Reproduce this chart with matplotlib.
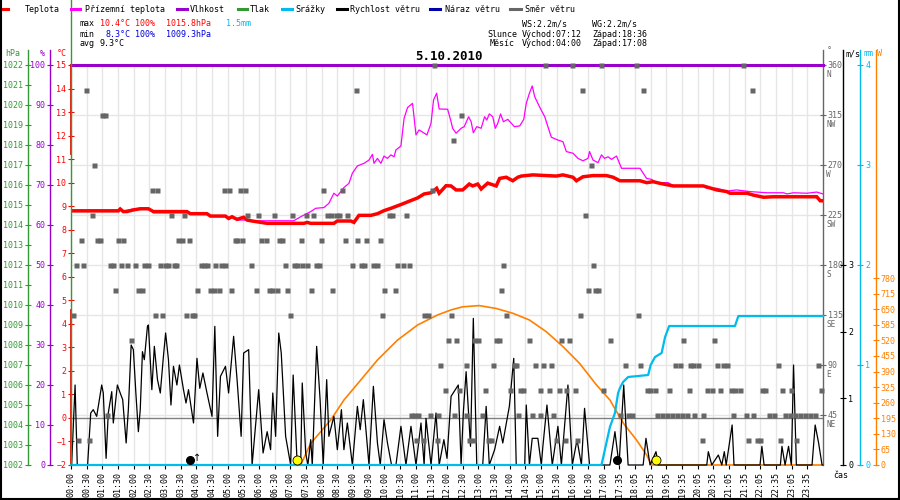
import matplotlib
matplotlib.use("Agg")
import matplotlib.pyplot as plt
from matplotlib.lines import Line2D
import numpy as np

# ---- data (time in hours of the day) ----
time_labels = ["00:00", "00:30", "01:00", "01:30", "02:00", "02:30", "03:00", "03:30",
               "04:00", "04:30", "05:00", "05:30", "06:00", "06:30", "07:00", "07:30",
               "08:00", "08:30", "09:00", "09:30", "10:00", "10:30", "11:00", "11:30",
               "12:00", "12:30", "13:00", "13:30", "14:00", "14:30", "15:00", "15:30",
               "16:00", "16:30", "17:00", "17:35", "18:05", "18:35", "19:05", "19:35",
               "20:05", "20:35", "21:05", "21:35", "22:05", "22:35", "23:05", "23:35"]

temp_t = [0, 1.51, 1.57, 1.67, 1.78, 1.99, 2.21, 2.47, 2.63, 3.70, 3.81, 4.34, 4.45, 4.93,
          5.03, 5.14, 5.30, 5.51, 5.62, 5.78, 6.26, 7.43, 7.54, 7.65, 8.39, 8.50, 8.93, 9.03,
          9.19, 9.57, 9.78, 9.99, 10.21, 10.53, 10.85, 11.06, 11.27, 11.49, 11.67, 11.75,
          11.97, 12.13, 12.29, 12.50, 12.71, 12.82, 12.98, 13.09, 13.30, 13.57, 13.68, 13.89,
          14.10, 14.26, 14.37, 14.74, 15.17, 15.49, 15.70, 16.02, 16.13, 16.34, 16.66, 17.09,
          17.30, 17.52, 18.16, 18.37, 18.58, 18.80, 19.22, 20.18, 20.61, 20.93, 21.03, 21.57,
          21.78, 22.10, 22.42, 23.80, 23.91, 24.0]
temp_v = [8.80, 8.80, 8.88, 8.77, 8.77, 8.84, 8.89, 8.89, 8.77, 8.77, 8.68, 8.68, 8.58, 8.58,
          8.48, 8.55, 8.44, 8.53, 8.41, 8.37, 8.27, 8.27, 8.31, 8.27, 8.27, 8.37, 8.37, 8.31,
          8.61, 8.61, 8.68, 8.81, 8.91, 9.07, 9.24, 9.35, 9.52, 9.57, 9.76, 9.55,
          9.87, 9.86, 9.69, 9.69, 9.94, 9.86, 9.94, 9.73, 9.98, 9.86, 10.18, 10.23,
          10.08, 10.23, 10.28, 10.33, 10.30, 10.28, 10.33, 10.23, 10.08, 10.25, 10.30, 10.30,
          10.23, 10.08, 10.08, 10.00, 10.04, 9.97, 9.86, 9.86, 9.69, 9.62, 9.55, 9.55,
          9.47, 9.38, 9.40, 9.40, 9.23, 9.23]

ground_t = [0, 1.51, 1.57, 1.67, 1.99, 2.21, 2.47, 2.63, 3.70, 3.81, 4.34, 4.45, 4.93, 5.03,
            5.14, 5.30, 5.62, 5.78, 7.11, 7.33, 7.65, 7.81, 8.07, 8.23, 8.39, 8.50, 8.61, 8.71,
            8.87, 8.98, 9.14, 9.35, 9.51, 9.62, 9.67, 9.78, 9.89, 9.99, 10.10, 10.21, 10.31,
            10.37, 10.53, 10.63, 10.74, 10.90, 11.01, 11.11, 11.36, 11.49, 11.57, 11.67, 11.75,
            12.02, 12.13, 12.18, 12.29, 12.45, 12.55, 12.69, 12.77, 12.84, 12.95, 13.09, 13.20,
            13.27, 13.35, 13.46, 13.54, 13.62, 13.71, 13.80, 13.94, 14.15, 14.32, 14.45, 14.53,
            14.63, 14.72, 14.80, 14.95, 15.12, 15.22, 15.33, 15.54, 15.70, 15.81, 16.02, 16.18,
            16.34, 16.50, 16.55, 16.66, 16.82, 16.93, 17.03, 17.14, 17.25, 17.41, 17.57, 18.16,
            18.37, 18.53, 18.69, 19.06, 19.22, 20.18, 20.29, 20.61, 20.93, 21.24, 21.67, 22.21,
            22.74, 22.85, 23.06, 23.49, 23.80, 24.0]
ground_v = [8.84, 8.84, 8.91, 8.80, 8.88, 8.91, 8.91, 8.72, 8.72, 8.66, 8.66, 8.58, 8.58, 8.46,
            8.53, 8.41, 8.41, 8.38, 8.38, 8.55, 8.77, 8.91, 8.94, 9.12, 9.55, 9.43, 9.62, 9.79,
            9.97, 10.40, 10.71, 10.82, 10.96, 11.20, 10.82, 11.03, 10.82, 11.13, 11.03, 11.18, 11.10,
            11.39, 11.56, 12.73, 13.19, 13.37, 12.03, 12.24, 12.03, 12.52, 13.51, 13.80, 13.13,
            13.12, 12.59, 12.31, 12.10, 12.31, 12.38, 12.80, 12.59, 12.12, 12.38, 12.31, 12.80,
            12.66, 12.92, 12.80, 12.31, 12.52, 12.92, 12.59, 12.69, 12.38, 12.41, 12.69, 13.37,
            13.80, 14.11, 13.65, 13.23, 12.80, 12.38, 11.93, 11.81, 11.74, 11.32, 11.25, 11.03,
            10.93, 11.03, 11.32, 10.96, 10.85, 11.18, 11.03, 11.10, 10.99, 11.13, 10.61, 10.61,
            10.18, 10.14, 10.00, 10.00, 9.86, 9.86, 9.76, 9.76, 9.64, 9.69, 9.62, 9.57,
            9.57, 9.52, 9.57, 9.55, 9.60, 9.52]

humid_t = [0, 24]
humid_v = [100, 100]

wind_t = [0.02, 0.13, 0.20, 0.53, 0.63, 0.71, 0.82, 0.98, 1.03, 1.12, 1.19, 1.30, 1.35, 1.48,
          1.57, 1.65, 1.76, 1.83, 1.92, 1.99, 2.07, 2.15, 2.21, 2.28, 2.34, 2.44, 2.47, 2.58,
          2.66, 2.76, 2.85, 2.95, 3.02, 3.11, 3.19, 3.27, 3.38, 3.46, 3.59, 3.67, 3.75, 3.91,
          4.02, 4.11, 4.21, 4.34, 4.50, 4.59, 4.68, 4.77, 4.93, 5.03, 5.19, 5.30, 5.43, 5.51,
          5.67, 5.78, 5.99, 6.13, 6.26, 6.37, 6.44, 6.53, 6.63, 6.71, 6.85, 7.01, 7.09, 7.22,
          7.33, 7.38, 7.49, 7.56, 7.65, 7.70, 7.84, 7.95, 8.05, 8.16, 8.23, 8.39, 8.50, 8.63,
          8.71, 8.82, 8.98, 9.14, 9.23, 9.33, 9.51, 9.65, 9.78, 9.87, 9.99, 10.10, 10.23, 10.37,
          10.53, 10.69, 10.85, 11.01, 11.17, 11.27, 11.33, 11.49, 11.65, 11.75, 11.90, 12.00,
          12.13, 12.36, 12.45, 12.52, 12.61, 12.75, 12.84, 12.95, 13.14, 13.25, 13.35, 13.52,
          13.68, 13.78, 13.99, 14.13, 14.21, 14.48, 14.53, 14.63, 14.72, 14.90, 15.01, 15.06,
          15.19, 15.36, 15.54, 15.65, 15.86, 16.00, 16.15, 16.29, 16.39, 16.55, 17.20, 17.36,
          17.49, 17.64, 17.78, 18.26, 18.35, 18.48, 18.67, 18.74, 20.29, 20.34, 20.45, 20.66,
          20.77, 20.85, 20.91, 21.10, 21.16, 21.99, 22.05, 22.12, 22.64, 22.69, 22.79, 22.90,
          22.99, 23.06, 23.15, 23.65, 23.75, 23.86, 23.97, 24.0]
wind_v = [0, 1.2, 0, 0, 0.78, 0.83, 0.73, 1.2, 1.08, 0.1, 0.78, 1.1, 0.63, 1.2,
          1.08, 0.98, 0.33, 0.83, 1.8, 1.73, 1.08, 0.5, 0.83, 1.7, 1.58, 2.08, 2.1, 1.13,
          1.78, 1.28, 1.08, 1.63, 1.98, 1.58, 0.9, 1.48, 1.2, 1.5, 1.13, 0.93, 1.13, 0.63,
          1.6, 1.15, 1.38, 1.08, 0.73, 2.08, 0.43, 1.33, 1.48, 1.08, 1.93, 1.28, 0.43, 1.68,
          1.73, 0, 1.13, 0.18, 0.5, 0.23, 1.08, 0.43, 1.98, 1.68, 0.43, 0, 1.35, 0,
          0, 1.23, 0.18, 0, 0.38, 0, 1.78, 0.98, 0, 1.28, 0.43, 0.73, 0.23, 0.83,
          0.23, 0.63, 0, 0.88, 0.53, 0.98, 0, 1.18, 0.33, 0, 0.68, 0.33, 0, 0,
          0.58, 0, 0.58, 0, 0.63, 0, 0.7, 0, 0.78, 0, 0.38, 0.1,
          1.03, 1.2, 0, 0.78, 1.4, 0.28, 2.2, 0, 0, 0.88, 0, 0.23,
          0.58, 0.33, 0.88, 1.6, 0, 0, 0.9, 0, 0.4, 0.4, 0, 0.28,
          0.9, 0, 0.58, 0, 1.2, 0, 0.38, 0, 0.85, 0, 0, 0.5,
          0, 1.2, 0, 0, 0.4, 0, 0.2, 0, 0, 0.2, 0, 0.15,
          0, 0.2, 0, 0.6, 0, 0, 0.28, 0, 0, 0.28, 0, 0.28,
          0, 1.5, 0, 0, 0.6, 0.33, 0, 0]

rain_t = [0, 16.93, 17.20, 17.36, 17.46, 17.52, 17.62, 17.78, 18.42, 18.50, 18.64, 18.85,
          18.96, 19.09, 21.19, 21.30, 24.0]
rain_v = [0, 0, 0.38, 0.52, 0.72, 0.77, 0.83, 0.88, 0.90, 1.00, 1.08, 1.12,
          1.28, 1.39, 1.39, 1.49, 1.49]

solar_t = [0, 7.33, 7.65, 8.29, 8.71, 9.25, 9.78, 10.42, 11.06, 11.70, 12.13, 12.50, 13.03,
           13.57, 14.10, 14.63, 15.17, 15.70, 16.23, 16.77, 17.20, 17.63, 18.05, 18.37, 18.53, 24.0]
solar_v = [0, 0, 90, 188, 271, 355, 438, 521, 584, 626, 647, 660, 665,
           653, 633, 605, 556, 494, 424, 334, 271, 174, 104, 42, 0, 0]

# wind direction samples, grouped by direction (degrees -> hours)
dir_samples = {
    360: [11.59, 15.14, 15.99, 16.93, 18.02, 21.46],
    337.5: [0.47, 9.09, 16.32, 18.26, 21.73],
    315: [0.98, 1.09, 12.45],
    292.5: [12.18],
    270: [0.74, 16.58],
    247.5: [2.58, 2.74, 4.87, 5.03, 5.39, 5.54, 8.05, 8.66, 11.51],
    225: [0.66, 3.19, 3.62, 5.62, 5.96, 6.47, 7.06, 7.49, 7.73, 8.18, 8.29, 8.45, 8.55,
          8.82, 10.15, 10.26, 10.69, 16.42],
    202.5: [0.32, 0.82, 0.91, 1.49, 1.65, 3.41, 3.54, 3.78, 5.22, 5.30, 5.46, 6.05, 6.21,
            6.63, 6.74, 7.33, 7.99, 8.74, 9.14, 9.41, 9.87],
    180: [0.15, 0.39, 1.23, 1.33, 1.60, 1.78, 2.03, 2.34, 2.47, 2.85, 3.01, 3.11, 3.30,
          3.36, 4.15, 4.26, 4.34, 4.61, 4.79, 4.93, 5.73, 6.82, 7.11, 7.22, 7.38, 7.54,
          7.81, 7.91, 8.98, 9.25, 9.35, 9.65, 9.76, 10.42, 10.58, 10.79, 13.78, 16.66],
    157.5: [1.41, 2.15, 2.26, 4.02, 4.45, 4.55, 4.71, 5.12, 5.89, 6.31, 6.42, 6.56, 6.88,
            7.65, 8.32, 9.99, 10.34, 13.73, 16.50, 16.71, 16.82],
    135: [0.05, 2.69, 2.92, 3.68, 3.86, 3.94, 6.98, 9.91, 11.27, 11.38, 12.13, 13.89,
          16.26, 18.10],
    112.5: [1.91, 12.02, 12.29, 12.87, 12.98, 13.57, 13.65, 14.63, 15.65, 15.89, 17.20,
            19.52, 20.51],
    90: [11.78, 12.61, 13.46, 14.15, 14.21, 14.80, 15.06, 15.33, 17.68, 18.16, 19.28,
         19.44, 19.76, 19.86, 20.02, 20.61, 20.82, 20.93, 22.56, 23.84],
    67.5: [11.93, 12.39, 13.22, 14.00, 14.32, 14.43, 14.98, 15.24, 15.56, 15.81, 16.08,
           16.98, 18.37, 18.48, 18.64, 19.09, 19.72, 20.29, 20.45, 20.72, 21.06, 21.20,
           21.34, 22.05, 22.16, 22.69, 22.98, 23.95],
    45: [1.14, 10.85, 10.95, 11.09, 11.46, 11.70, 12.23, 12.61, 13.12, 14.26, 14.72,
         14.98, 15.38, 17.52, 17.78, 17.89, 18.71, 18.85, 19.01, 19.17, 19.33, 19.49,
         19.65, 19.88, 20.18, 21.12, 21.55, 21.76, 22.27, 22.43, 22.80, 22.96, 23.12,
         23.28, 23.44, 23.60, 23.76],
    22.5: [0.23, 0.58, 11.01, 11.22, 11.67, 12.71, 12.82, 13.30, 13.41, 15.47, 15.75,
           16.16, 20.13, 21.62, 21.89, 22.00, 22.64, 23.15],
}

sun_marks = [7.20, 18.67]     # sunrise / sunset
moon_marks = [3.81, 17.41]    # moonrise / moonset
temp_edge = [(15.0, 11.2), (4.6, -2.0)]

compass = {360: "N", 315: "NW", 270: "W", 225: "SW", 180: "S", 135: "SE", 90: "E", 45: "NE"}

# colours
RED = "#ff0000"
MAG = "#ff00ff"
PUR = "#9900cc"
GRN = "#339933"
CYA = "#00bbee"
BLU = "#0000aa"
GRY = "#666666"
ORA = "#ff8000"

plt.rcParams["font.family"] = ["DejaVu Sans Mono", "DejaVu Sans"]
plt.rcParams["font.size"] = 6

W, H = 900.0, 500.0
X0, X1, Y0, Y1 = 71, 823, 65, 465
fig = plt.figure(figsize=(9, 5), dpi=100)
ax_d = fig.add_axes([X0 / W, 1 - Y1 / H, (X1 - X0) / W, (Y1 - Y0) / H])


def px(x, y):
    return x / W, 1 - y / H


def side_axis(a, side, pos, color, lim, ticks, labels=None):
    a.set_ylim(*lim)
    for s in a.spines.values():
        s.set_visible(False)
    sp = a.spines[side]
    sp.set_visible(True)
    sp.set_position(("axes", pos))
    sp.set_color(color)
    sp.set_linewidth(1.0)
    sp.set_bounds(lim[0], lim[1] + (lim[1] - lim[0]) * 15 / 400)
    if side == "left":
        a.yaxis.tick_left()
    else:
        a.yaxis.tick_right()
    a.set_yticks(ticks)
    if labels is not None:
        a.set_yticklabels(labels)
    a.tick_params(axis="y", direction="inout", length=5, width=0.8, colors=color,
                  pad=1, labelsize=6)


# twin axes, one per quantity
ax_p = ax_d.twinx()
ax_h = ax_d.twinx()
ax_t = ax_d.twinx()
ax_s = ax_d.twinx()
ax_w = ax_d.twinx()
ax_r = ax_d.twinx()
ax_q = ax_d.twinx()

ax_d.set_xlim(0, 24)
side_axis(ax_d, "right", 1.0, GRY, (0, 360), list(compass.keys()),
          [str(k) for k in compass.keys()])
ax_d.set_xticks(np.arange(0, 24, 0.5))
ax_d.set_xticklabels(time_labels, rotation=90)
ax_d.tick_params(axis="x", direction="out", length=3, width=0.8, pad=2, labelsize=6)
ax_d.grid(True, color="#e6e6e6", lw=1)
ax_d.set_axisbelow(True)
for deg, name in compass.items():
    ax_d.annotate(name, xy=(1, deg), xycoords=ax_d.get_yaxis_transform(),
                  xytext=(2.3, -6.6), textcoords="offset points", va="center",
                  ha="left", color=GRY, fontsize=5.6)

side_axis(ax_p, "left", -0.0568, GRN, (1002, 1022), np.arange(1002, 1023, 1))
side_axis(ax_h, "left", -0.0279, PUR, (0, 100), np.arange(0, 101, 10))
side_axis(ax_t, "left", 0.0, RED, (-2, 15), np.arange(-2, 16, 1))
ax_t.spines["left"].set_visible(False)
side_axis(ax_w, "right", 1.027, "black", (0, 6), [0, 1, 2, 3])
side_axis(ax_r, "right", 1.0496, CYA, (0, 4), [0, 1, 2, 3, 4])
side_axis(ax_s, "right", 1.0701, ORA, (0, 400 / 0.2397), np.arange(0, 781, 65))
ax_q.set_ylim(0, 360)
ax_q.axis("off")
ax_d.yaxis.tick_right()

# data
ax_h.plot(humid_t, humid_v, color=PUR, lw=2.2, clip_on=False)
ax_t.axhline(0, color="#808080", lw=1)
for top, bot in temp_edge:
    ax_t.plot([0, 0], [top, bot], color=RED, lw=1.3, clip_on=False)
ax_t.plot(ground_t, ground_v, color=MAG, lw=0.9)
ax_t.plot(temp_t, temp_v, color=RED, lw=2.5, solid_joinstyle="miter")
ax_s.plot(solar_t, solar_v, color=ORA, lw=1.2, clip_on=False)
ax_w.plot(wind_t, wind_v, color="black", lw=0.9, clip_on=False)
ax_r.plot(rain_t, rain_v, color=CYA, lw=1.6, clip_on=False)
for deg, hours in dir_samples.items():
    ax_q.plot(hours, [deg] * len(hours), ls="none", marker="s", ms=3.6,
              color=GRY, mec="none", clip_on=False)
ax_r.plot(sun_marks, [0.05] * 2, ls="none", marker="o", ms=6.5, mfc="#ffff00",
          mec="black", mew=0.6, clip_on=False, zorder=5)
ax_r.plot(moon_marks, [0.05] * 2, ls="none", marker="o", ms=5.5, mfc="black",
          mec="black", clip_on=False, zorder=5)
ax_r.text(moon_marks[0] + 0.22, 0.02, "\u2191", fontsize=7, family="DejaVu Sans",
          ha="center", va="bottom")

# left green line (pressure start) through header
fig.add_artist(Line2D([X0 / W, X0 / W], [1 - Y1 / H, 1.0], color=GRN, lw=1))

# legend row
legend = [(RED, 1, 8, "Teplota", 25), (MAG, 71, 80, "Přízemní teplota", 85),
          (PUR, 177, 187, "Vlhkost", 190), (GRN, 238, 247, "Tlak", 250),
          (CYA, 282, 292, "Srážky", 295), ("black", 337, 347, "Rychlost větru", 350),
          (BLU, 430, 440, "Náraz větru", 445), (GRY, 510, 521, "Směr větru", 525)]
for col, xa, xb, name, xt in legend:
    fig.add_artist(Line2D([xa / W, xb / W], [1 - 9 / H] * 2, color=col, lw=2.2))
    fig.text(*px(xt, 9), name, va="center", ha="left")

# statistics block
stats = [(80, 24, "max", "black"), (100, 24, "10.4°C", RED), (135, 24, "100%", RED),
         (166, 24, "1015.8hPa", RED), (226, 24, "1.5mm", CYA),
         (80, 34, "min", "black"), (105, 34, "8.3°C", "#0000dd"), (135, 34, "100%", "#0000dd"),
         (166, 34, "1009.3hPa", "#0000dd"),
         (80, 43, "avg", "black"), (100, 43, "9.3°C", "black"),
         (522, 24, "WS:2.2m/s", "black"), (592, 24, "WG:2.2m/s", "black"),
         (487, 34, "Slunce", "black"), (522, 34, "Východ:07:12", "black"),
         (592, 34, "Západ:18:36", "black"),
         (490, 43, "Měsíc", "black"), (522, 43, "Východ:04:00", "black"),
         (592, 43, "Západ:17:08", "black")]
for x, y, s, c in stats:
    fig.text(*px(x, y), s, color=c, va="center", ha="left")

fig.text(*px(449, 57), "5.10.2010", fontsize=9, fontweight="bold", ha="center", va="center")

# unit labels
for x, y, s, c in [(5, 54, "hPa", GRN), (40, 54, "%", PUR), (57, 54, "°C", RED),
                   (827, 51, "°", GRY), (845, 54, "m/s", "black"), (863, 54, "mm", CYA),
                   (877, 54, "W", ORA), (833, 475, "čas", "black")]:
    fig.text(*px(x, y), s, color=c, va="center", ha="left")

# frame
for xs, ys in [([0.5, 0.5], [0, H]), ([W - 1, W - 1], [0, H]), ([0, W], [H - 1.5, H - 1.5])]:
    fig.add_artist(Line2D([v / W for v in xs], [1 - v / H for v in ys], color="black", lw=1.5))

fig.savefig("out.png", dpi=100)
